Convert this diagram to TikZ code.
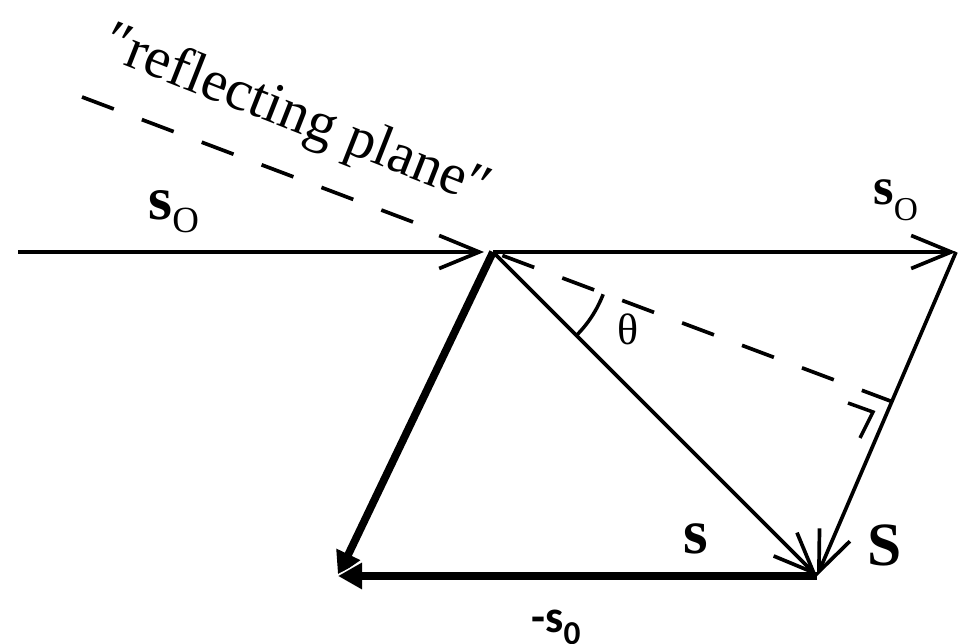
\documentclass[tikz,border=0pt]{standalone}
\usepackage{fontspec}
\setmainfont{Liberation Serif}
\newfontfamily\calibrifont{Carlito}
\usepackage{tikz}
\usetikzlibrary{arrows.meta, calc}

\begin{document}
\begin{tikzpicture}[
    x=0.02cm, y=-0.02cm,
    vec/.style={-{Straight Barb[length=0.8cm, width=0.66cm]}, line width=2.1pt},
    fatvec/.style={-{Triangle[length=0.48cm, width=0.5cm]}, line width=4.4pt},
    plane/.style={dash pattern=on 0.68cm off 0.6cm, line width=2.1pt},
    anglemark/.style={line width=2pt},
    lbl/.style={inner sep=0pt, font=\bfseries}
]
\useasboundingbox (0,0) rectangle (959,644);

% points of the construction
\coordinate (src) at (18,252);
\coordinate (hit) at (484,252);
\coordinate (O) at (493,252);
\coordinate (A) at (956,252);
\coordinate (P) at (817,576);
\coordinate (Q) at (338,576);
\coordinate (pl1) at (82,97);
\coordinate (pl2) at (413,222);
\coordinate (F) at (893,402);

% reflecting plane
\draw[plane] (pl1) -- (pl2);
\draw[plane, dash phase=1.08cm] (O) -- (F);
\node[inner sep=0pt, anchor=base, rotate=-21.5] (plane) at (291,131)
    {\fontsize{33}{33}\selectfont ″reflecting plane″};

% incoming and scattered beams
\draw[vec] (src) -- (hit);
\draw[vec] (O) -- (A);
\draw[vec] (O) -- (P);
\draw[vec] (A) -- (P);

% -s0 and its copy
\draw[fatvec] (O) -- (Q);
\draw[white, line width=2pt] (Q) -- ++(24,-12.5);
\draw[fatvec] (P) -- (Q);

% angle and right angle
\draw[anglemark] (O) ++(-45:2.36cm) arc[start angle=-45, end angle=-21, radius=2.36cm];
\draw[anglemark] (848,403) -- (873,412) -- (860,438);

% labels
\node[lbl, anchor=base west] (s0in) at (148,220)
    {\fontsize{35}{35}\selectfont s\raisebox{-7.4pt}{\fontsize{21}{21}\selectfont\mdseries O}};
\node[lbl, anchor=base west] (s0out) at (873,205)
    {\fontsize{30}{30}\selectfont s\raisebox{-9pt}{\fontsize{19}{19}\selectfont\mdseries O}};
\node[inner sep=0pt, anchor=base] (theta) at (628,345) {\fontsize{25}{25}\selectfont θ};
\node[lbl, anchor=base] (slbl) at (696,553) {\fontsize{36}{36}\selectfont s};
\node[lbl, anchor=base] (Slbl) at (885,565) {\fontsize{35}{35}\selectfont S};
\node[inner sep=0pt, anchor=base west] (ms0) at (531,632)
    {\calibrifont\bfseries\fontsize{26}{26}\selectfont -s\raisebox{-7pt}{\fontsize{19}{19}\selectfont 0}};

\end{tikzpicture}
\end{document}
